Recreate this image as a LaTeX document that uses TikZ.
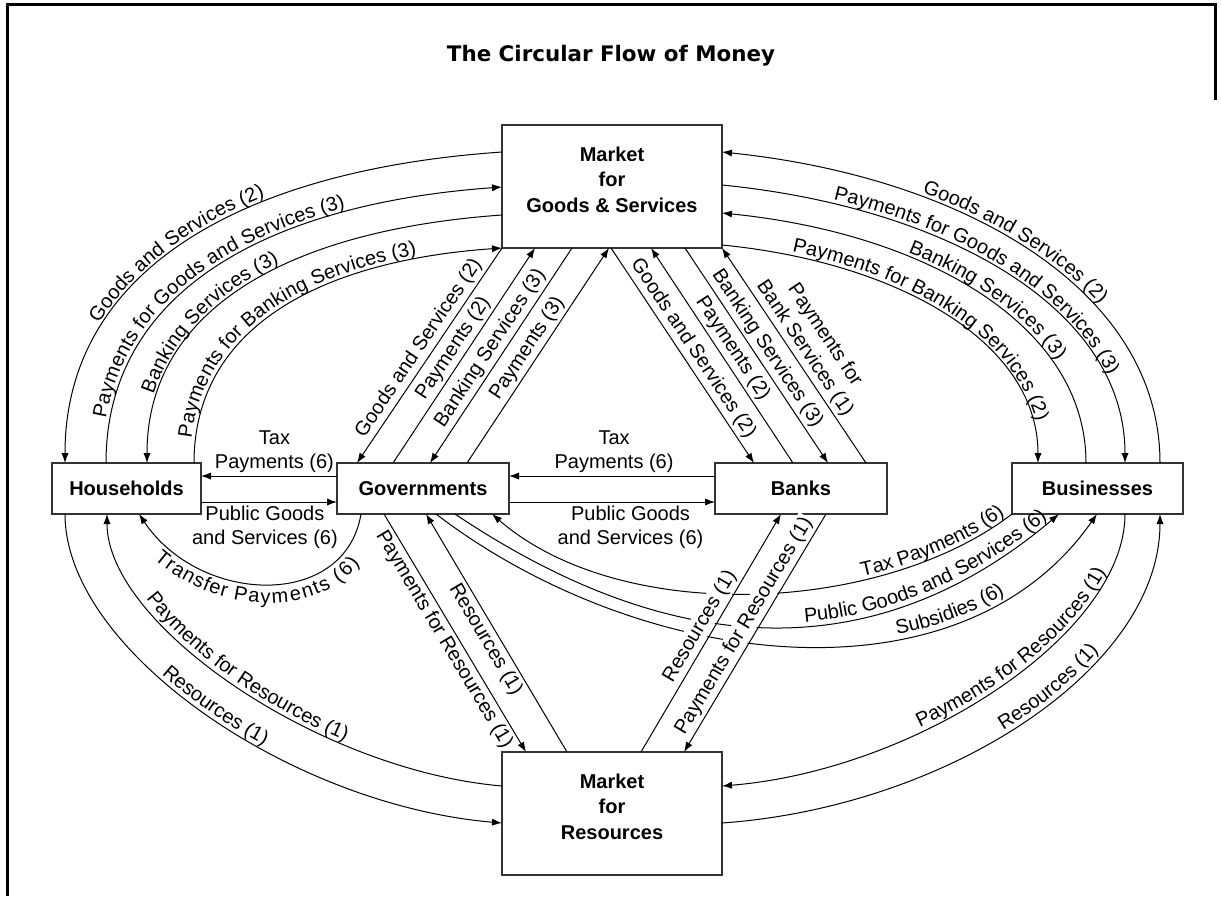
\documentclass[tikz,border=0pt]{standalone}
\usepackage{fontspec}
\setmainfont{Liberation Sans}
\newfontfamily\titlefont{DejaVu Sans}
\usetikzlibrary{arrows.meta,calc,decorations.text}
\begin{document}
\begin{tikzpicture}[x=0.5pt,y=-0.5pt,
  >={Latex[length=5pt,width=3.6pt]},
  box/.style={draw=black!80, line width=0.8pt, fill=white, outer sep=0pt, inner sep=0pt,
    align=center, font=\bfseries\fontsize{10}{12.75}\selectfont},
  bigbox/.style={box, minimum width=110pt, minimum height=61.5pt, text depth=7pt},
  smallbox/.style={box, minimum height=25.5pt},
  flow/.style={draw=black, line width=0.5pt},
  lbl/.style={inner sep=1.5pt, font=\fontsize{10}{12}\selectfont},
  ptext/.style n args={3}{postaction={decorate, decoration={text along path,
    text={#1}, text align={#2}, raise=#3}}}
]
\useasboundingbox (0,0) rectangle (1221,896);
% frame
\draw[line width=1.5pt] (7,896) -- (7,4.5) -- (1215,4.5) -- (1215,100);
% title
\node[font=\titlefont\bfseries\fontsize{10.7}{13}\selectfont] (title) at (611,56) {The Circular Flow of Money};
% boxes
\node[bigbox] (mgs) at (612,186.5) {Market\\for\\Goods \& Services};
\node[bigbox] (mfr) at (612,813.5) {Market\\for\\Resources};
\node[smallbox, minimum width=74.5pt] (hh) at (126.5,488.5) {Households};
\node[smallbox, minimum width=86pt] (gov) at (423,488.5) {Governments};
\node[smallbox, minimum width=86pt] (banks) at (801,488.5) {Banks};
\node[smallbox, minimum width=85.5pt] (bus) at (1097.5,488.5) {Businesses};

% ---------- top-left arcs: Households <-> Market for Goods & Services
\draw[flow,<-, ptext={Goods and Services (2)}{left indent=72pt}{2pt}]
  ($(hh.north west)+(13,0)$) .. controls +(0,-192) and +(-262,18) .. ($(mgs.north west)+(0,27)$);
\draw[flow,->, ptext={Payments for Goods and Services (3)}{left indent=22pt}{2pt}]
  ($(hh.north west)+(54,0)$) .. controls +(0,-171) and +(-236,17) .. ($(mgs.north west)+(0,62)$);
\draw[flow,<-, ptext={Banking Services (3)}{left indent=34pt}{2pt}]
  ($(hh.north west)+(95,0)$) .. controls +(0,-154) and +(-213,15) .. ($(mgs.north west)+(0,90)$);
\draw[flow,->, ptext={Payments for Banking Services (3)}{left indent=12pt}{2pt}]
  ($(hh.north west)+(142,0)$) .. controls +(0,-134) and +(-185,13) .. (mgs.south west);

% ---------- top-right arcs: Market for Goods & Services <-> Businesses
\draw[flow,<-, ptext={Goods and Services (2)}{left indent=102pt}{2pt}]
  ($(mgs.north east)+(0,27)$) .. controls +(241,25) and +(0,-174) .. ($(bus.north west)+(148,0)$);
\draw[flow,->, ptext={Payments for Goods and Services (3)}{left indent=56pt}{2pt}]
  ($(mgs.north east)+(0,60)$) .. controls +(222,22) and +(0,-156) .. ($(bus.north west)+(113,0)$);
\draw[flow,<-, ptext={Banking Services (3)}{left indent=95pt}{2pt}]
  ($(mgs.north east)+(0,88)$) .. controls +(200,20) and +(0,-140) .. ($(bus.north west)+(74,0)$);
\draw[flow,->, ptext={Payments for Banking Services (2)}{left indent=35pt}{2pt}]
  ($(mgs.north east)+(0,120)$) .. controls +(174,17) and +(0,-122) .. ($(bus.north west)+(26,0)$);

% ---------- bottom-left arcs: Households <-> Market for Resources
\draw[flow,->, ptext={Resources (1)}{left indent=97pt}{2pt}]
  ($(hh.south west)+(13,0)$) .. controls +(0,136) and +(-212,-18) .. ($(mfr.north west)+(0,71)$);
\draw[flow,<-, ptext={Payments for Resources (1)}{left indent=48pt}{2pt}]
  ($(hh.south west)+(55,0)$) .. controls +(0,110) and +(-185,-16) .. ($(mfr.north west)+(0,34)$);

% ---------- bottom-right arcs: Market for Resources <-> Businesses
\draw[flow,<-, ptext={Payments for Resources (1)}{left indent=104pt}{2pt}]
  ($(mfr.north east)+(0,34)$) .. controls +(195,-16) and +(0,120) .. ($(bus.south west)+(113,0)$);
\draw[flow,->, ptext={Resources (1)}{left indent=150pt}{2pt}]
  ($(mfr.north east)+(0,71)$) .. controls +(225,-16) and +(0,155) .. ($(bus.south west)+(148,0)$);

% ---------- transfer payments
\draw[flow,<-, ptext={Transfer Payments (6)}{center}{-9.5pt}]
  ($(hh.south west)+(87,0)$) .. controls +(61,91) and +(-16,96) .. ($(gov.south west)+(24,0)$);

% ---------- Governments <-> Businesses arcs
\draw[flow,<-, ptext={Tax Payments (6)}{right, right indent=3pt}{2pt}]
  ($(gov.south west)+(155,0)$) .. controls +(128,111) and +(-132,101) .. (bus.south west);
\draw[flow,->, ptext={Public Goods and Services (6)}{right, right indent=6pt}{2pt}]
  ($(gov.south west)+(118,0)$) .. controls +(225,151) and +(-179,151) .. ($(bus.south west)+(47,0)$);
\draw[flow,->, ptext={Subsidies (6)}{right, right indent=62pt}{2pt}]
  ($(gov.south west)+(99,0)$) .. controls +(204,156) and +(-137,196) .. ($(bus.south west)+(85,0)$);

% ---------- horizontal flows
\draw[flow,->] ($(gov.west)+(0,-12.5)$) -- node[lbl, pos=0.46, above, align=center] {Tax\\Payments (6)} ($(hh.east)+(0,-12.5)$);
\draw[flow,->] ($(hh.east)+(0,13.5)$) -- node[lbl, pos=0.47, below, align=center] {Public Goods\\and Services (6)} ($(gov.west)+(0,13.5)$);
\draw[flow,->] ($(banks.west)+(0,-12.5)$) -- node[lbl, pos=0.49, above, align=center] {Tax\\Payments (6)} ($(gov.east)+(0,-12.5)$);
\draw[flow,->] ($(gov.east)+(0,13.5)$) -- node[lbl, pos=0.59, below, align=center] {Public Goods\\and Services (6)} ($(banks.west)+(0,13.5)$);

% ---------- Governments <-> Market for Goods & Services
\draw[flow,<-] ($(gov.north west)+(20,0)$) -- node[lbl, sloped, above] {Goods and Services (2)} (mgs.south west);
\draw[flow,->] ($(gov.north west)+(56,0)$) -- node[lbl, sloped, above] {Payments (2)} ($(mgs.south west)+(33,0)$);
\draw[flow,<-] ($(gov.north west)+(93,0)$) -- node[lbl, sloped, above] {Banking Services (3)} ($(mgs.south west)+(70,0)$);
\draw[flow,->] ($(gov.north west)+(130,0)$) -- node[lbl, sloped, above] {Payments (3)} ($(mgs.south west)+(107,0)$);

% ---------- Market for Goods & Services <-> Banks
\draw[flow,->] ($(mgs.south west)+(109,0)$) -- node[lbl, sloped, above] {Goods and Services (2)} ($(banks.north west)+(39,0)$);
\draw[flow,<-] ($(mgs.south west)+(149,0)$) -- node[lbl, sloped, above] {Payments (2)} ($(banks.north west)+(78,0)$);
\draw[flow,->] ($(mgs.south west)+(183,0)$) -- node[lbl, sloped, above] {Banking Services (3)} ($(banks.north west)+(113,0)$);
\draw[flow,<-] (mgs.south east) -- node[lbl, sloped, above, align=center] {Payments for\\Bank Services (1)} ($(banks.north west)+(151,0)$);

% ---------- Governments <-> Market for Resources
\draw[flow,->] ($(gov.south west)+(47,0)$) -- node[lbl, sloped, below] {Payments for Resources (1)} ($(mfr.north west)+(24,0)$);
\draw[flow,<-] ($(gov.south west)+(89,0)$) -- node[lbl, sloped, below] {Resources (1)} ($(mfr.north west)+(65,0)$);

% ---------- Market for Resources <-> Banks
\draw[flow,->] ($(mfr.north west)+(139,0)$) -- node[lbl, sloped, above=0.5pt, fill=white, inner sep=1pt] {Resources (1)} ($(banks.south west)+(66,0)$);
\draw[flow,<-] ($(mfr.north west)+(182,0)$) -- node[lbl, sloped, above=0.5pt, fill=white, inner sep=1pt] {Payments for Resources (1)} ($(banks.south west)+(111,0)$);
\end{tikzpicture}
\end{document}
